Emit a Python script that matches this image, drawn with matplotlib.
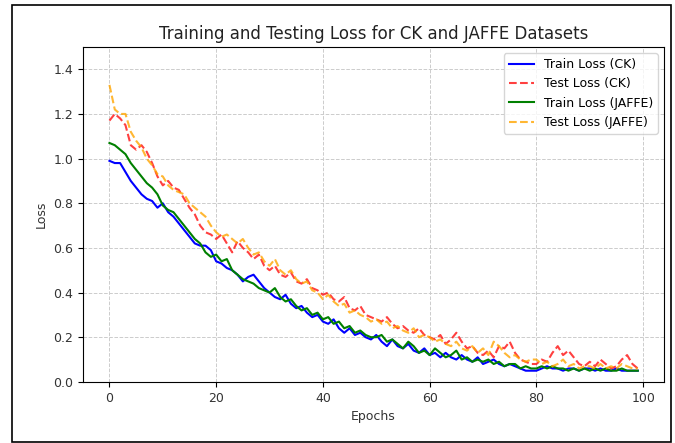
import numpy as np
import matplotlib
matplotlib.use("Agg")
from matplotlib import pyplot as plt
from matplotlib.patches import Rectangle

# valores (100 epocas)
epochs = np.arange(100)

train_ck = [0.99, 0.98, 0.98, 0.94, 0.90, 0.87, 0.84, 0.82, 0.81, 0.78,
            0.80, 0.76, 0.74, 0.71, 0.68, 0.65, 0.62, 0.61, 0.61, 0.59,
            0.54, 0.53, 0.51, 0.50, 0.48, 0.45, 0.47, 0.48, 0.45, 0.42,
            0.40, 0.38, 0.37, 0.39, 0.35, 0.33, 0.34, 0.31, 0.29, 0.30,
            0.27, 0.26, 0.28, 0.24, 0.22, 0.24, 0.21, 0.22, 0.20, 0.19,
            0.21, 0.18, 0.16, 0.19, 0.16, 0.15, 0.17, 0.14, 0.13, 0.15,
            0.12, 0.13, 0.11, 0.13, 0.11, 0.10, 0.12, 0.10, 0.09, 0.11,
            0.08, 0.09, 0.10, 0.08, 0.07, 0.08, 0.07, 0.06, 0.05, 0.05,
            0.05, 0.06, 0.07, 0.06, 0.06, 0.05, 0.06, 0.06, 0.05, 0.06,
            0.06, 0.05, 0.06, 0.05, 0.05, 0.06, 0.05, 0.05, 0.05, 0.05]

test_ck = [1.17, 1.20, 1.18, 1.15, 1.06, 1.04, 1.06, 1.03, 0.98, 0.92,
           0.88, 0.90, 0.87, 0.86, 0.82, 0.78, 0.75, 0.70, 0.67, 0.66,
           0.64, 0.66, 0.62, 0.58, 0.63, 0.60, 0.58, 0.55, 0.57, 0.52,
           0.50, 0.52, 0.48, 0.47, 0.49, 0.45, 0.44, 0.46, 0.42, 0.41,
           0.39, 0.40, 0.37, 0.36, 0.38, 0.33, 0.32, 0.34, 0.30, 0.29,
           0.28, 0.27, 0.29, 0.26, 0.24, 0.25, 0.23, 0.22, 0.24, 0.21,
           0.20, 0.19, 0.21, 0.17, 0.19, 0.22, 0.18, 0.15, 0.16, 0.13,
           0.12, 0.14, 0.11, 0.16, 0.15, 0.18, 0.13, 0.10, 0.09, 0.08,
           0.08, 0.10, 0.09, 0.13, 0.16, 0.12, 0.14, 0.11, 0.08, 0.07,
           0.09, 0.07, 0.10, 0.08, 0.06, 0.07, 0.10, 0.12, 0.08, 0.06]

train_jaffe = [1.07, 1.06, 1.04, 1.02, 0.98, 0.95, 0.92, 0.89, 0.87, 0.84,
               0.79, 0.77, 0.76, 0.73, 0.70, 0.67, 0.64, 0.62, 0.58, 0.56,
               0.57, 0.54, 0.55, 0.50, 0.48, 0.46, 0.45, 0.44, 0.42, 0.41,
               0.40, 0.42, 0.38, 0.36, 0.37, 0.34, 0.32, 0.33, 0.30, 0.31,
               0.28, 0.29, 0.26, 0.27, 0.24, 0.25, 0.22, 0.23, 0.21, 0.20,
               0.20, 0.21, 0.18, 0.19, 0.17, 0.15, 0.18, 0.16, 0.13, 0.14,
               0.12, 0.15, 0.13, 0.11, 0.12, 0.14, 0.10, 0.11, 0.09, 0.10,
               0.09, 0.10, 0.08, 0.09, 0.07, 0.08, 0.08, 0.06, 0.07, 0.06,
               0.06, 0.07, 0.06, 0.07, 0.06, 0.06, 0.05, 0.06, 0.05, 0.06,
               0.05, 0.06, 0.05, 0.06, 0.05, 0.05, 0.06, 0.05, 0.05, 0.05]

test_jaffe = [1.33, 1.22, 1.20, 1.20, 1.12, 1.08, 1.05, 1.00, 0.97, 0.93,
              0.92, 0.88, 0.86, 0.85, 0.84, 0.80, 0.78, 0.76, 0.74, 0.70,
              0.67, 0.65, 0.66, 0.64, 0.62, 0.64, 0.60, 0.57, 0.58, 0.54,
              0.52, 0.55, 0.50, 0.48, 0.50, 0.46, 0.44, 0.45, 0.41, 0.40,
              0.37, 0.39, 0.36, 0.34, 0.35, 0.31, 0.32, 0.30, 0.29, 0.27,
              0.28, 0.26, 0.27, 0.24, 0.25, 0.23, 0.22, 0.24, 0.20, 0.21,
              0.20, 0.18, 0.19, 0.17, 0.16, 0.18, 0.15, 0.14, 0.16, 0.13,
              0.15, 0.12, 0.18, 0.16, 0.13, 0.11, 0.12, 0.10, 0.09, 0.10,
              0.10, 0.08, 0.09, 0.07, 0.08, 0.10, 0.07, 0.08, 0.06, 0.07,
              0.07, 0.06, 0.08, 0.06, 0.07, 0.06, 0.08, 0.07, 0.06, 0.06]

fig = plt.figure(figsize=(6.75, 4.43), dpi=100)
ax = fig.add_axes([0.123, 0.138, 0.861, 0.756])

ax.plot(epochs, train_ck, color='blue', label='Train Loss (CK)')
ax.plot(epochs, test_ck, color='red', linestyle='--', alpha=0.75, label='Test Loss (CK)')
ax.plot(epochs, train_jaffe, color='green', label='Train Loss (JAFFE)')
ax.plot(epochs, test_jaffe, color='orange', linestyle='--', alpha=0.8, label='Test Loss (JAFFE)')

ax.set_ylim(0, 1.5)
ax.set_yticks(np.arange(0, 1.41, 0.2))
ax.set_title('Training and Testing Loss for CK and JAFFE Datasets', fontsize=12, color='#222222')
ax.set_xlabel('Epochs', fontsize=9, color='#333333')
ax.set_ylabel('Loss', fontsize=9, color='#333333')
ax.tick_params(labelsize=9, labelcolor='#333333')
ax.grid(True, linestyle='--', color='#cccccc', linewidth=0.7)
ax.legend(loc='upper right', fontsize=9)

# marco negro alrededor de la figura
fig.patches.append(Rectangle((0.018, 0.003), 0.976, 0.986, transform=fig.transFigure,
                             fill=False, edgecolor='black', linewidth=1.2))

fig.savefig('out.png', dpi=100)
